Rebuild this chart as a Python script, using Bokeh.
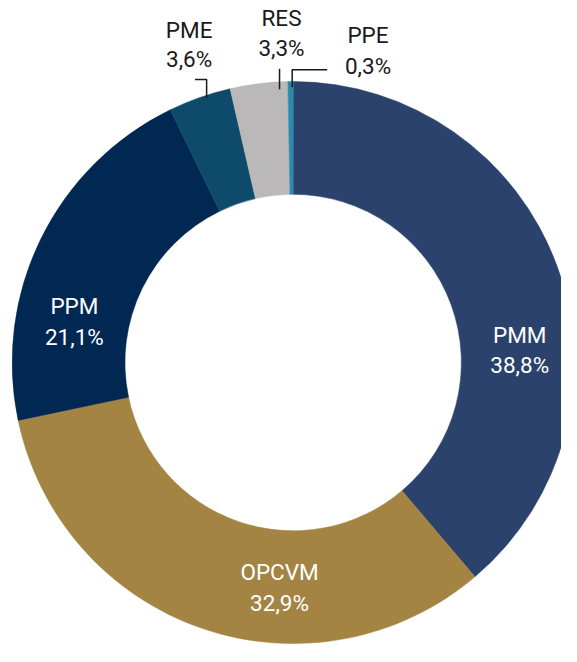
import math
from bokeh.plotting import figure
from bokeh.models import ColumnDataSource, Range1d
from bokeh.core.properties import value
from bokeh.embed import file_html
from bokeh.resources import INLINE

# ---- data ----
categories = ["PMM", "OPCVM", "PPM", "PME", "RES", "PPE"]
shares = [38.8, 32.9, 21.1, 3.6, 3.3, 0.3]
share_labels = ["38,8%", "32,9%", "21,1%", "3,6%", "3,3%", "0,3%"]

# ---- styles / layout (reference px, y downward) ----
colors = ["#2b426c", "#a38443", "#012852", "#0e4b6b", "#bab8b9", "#2a8bae"]
cx, cy = 301, 371
r_out, r_in = 289, 173
label_x = [534, 287, 76, 194, 289, 378]
label_y1 = [343, 586, 313, 30, 18, 35]
label_y2 = [374, 617, 345, 60, 49, 67]
label_color = ["white", "white", "white", "#1a1a1a", "#1a1a1a", "#1a1a1a"]
leaders = [
    ([200, 212, 212], [81, 81, 100]),
    ([287, 287], [70, 91]),
    ([336, 300, 300], [71, 71, 89]),
]

REF_W, REF_H = 577, 662
W, H = 561, 646
p = figure(width=W, height=H, output_backend="svg", toolbar_location=None,
           x_range=Range1d(0, REF_W), y_range=Range1d(-REF_H, 0),
           min_border=0, outline_line_color=None)
p.axis.visible = False
p.grid.visible = False
p.min_border_left = p.min_border_right = p.min_border_top = p.min_border_bottom = 0

total = sum(shares)
starts, ends = [], []
acc = 0.0
for s in shares:
    a0 = acc / total * 360.0
    acc += s
    a1 = acc / total * 360.0
    starts.append(math.radians(90 - a0))
    ends.append(math.radians(90 - a1))

src = ColumnDataSource(dict(cat=categories, start=starts, end=ends, color=colors))
p.annular_wedge(x=cx, y=-cy, inner_radius=r_in, outer_radius=r_out,
                start_angle="start", end_angle="end", direction="clock",
                color="color", line_color="color", line_width=0.5, source=src)

for xs, ys in leaders:
    p.line(x=xs, y=[-v for v in ys], line_color="#1a1a1a", line_width=1.5)

tsrc = ColumnDataSource(dict(
    x=label_x, y1=[-v for v in label_y1], y2=[-v for v in label_y2],
    name=categories, val=share_labels, col=label_color))
for ycol, tcol in (("y1", "name"), ("y2", "val")):
    p.text(x="x", y=ycol, text=tcol, source=tsrc, text_color="col",
           text_font=value("Roboto"), text_font_size="22.5px",
           text_align="center", text_baseline="middle")

open("out.html", "w").write(file_html(p, INLINE))
